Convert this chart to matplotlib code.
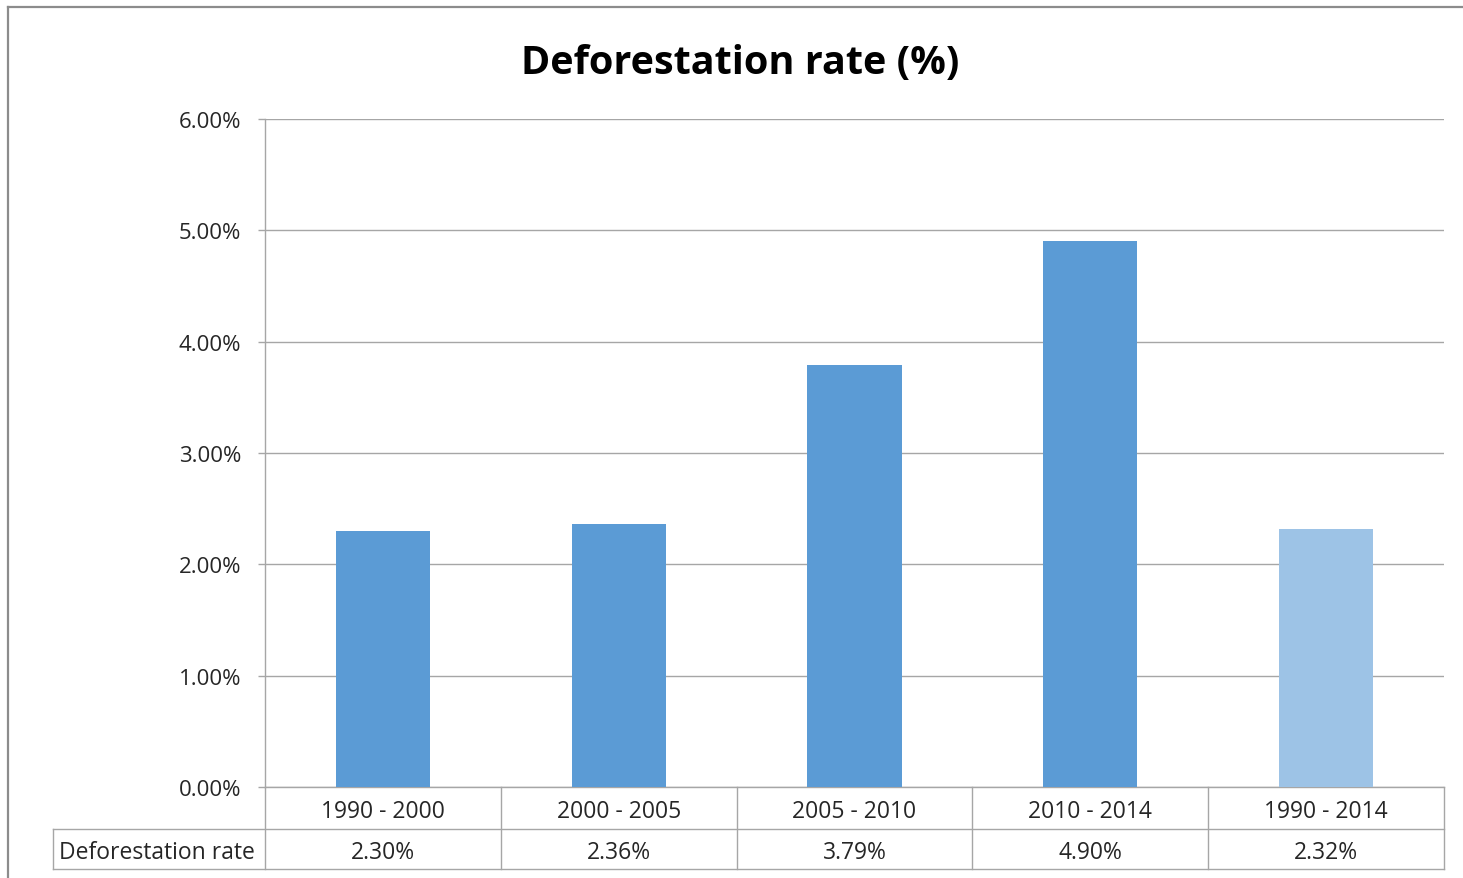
import matplotlib
matplotlib.use("Agg")
import matplotlib.pyplot as plt
from matplotlib.lines import Line2D
from matplotlib.ticker import FuncFormatter

# Data
periods = ["1990 - 2000", "2000 - 2005", "2005 - 2010", "2010 - 2014", "1990 - 2014"]
rates = [2.30, 2.36, 3.79, 4.90, 2.32]
row_label = "Deforestation rate"
bar_colors = ["#5B9BD5", "#5B9BD5", "#5B9BD5", "#5B9BD5", "#9DC3E6"]

W, H = 1463, 879
fig = plt.figure(figsize=(W / 100, H / 100), dpi=100)
fig.patch.set_facecolor("white")

font = "Open Sans"
grid_col = "#A6A6A6"
text_col = "#262626"
fs = 16.5

# Outer chart frame (left and top edges)
fig.add_artist(Line2D([8 / W, 8 / W], [0, 1 - 8 / H], color="#8C8C8C", lw=1.6,
                      transform=fig.transFigure))
fig.add_artist(Line2D([8 / W, 1], [1 - 8 / H, 1 - 8 / H], color="#8C8C8C", lw=1.6,
                      transform=fig.transFigure))

ax_left, ax_right = 265 / W, 1444 / W
ax_top, ax_bot = 1 - 120 / H, 1 - 788 / H
ax = fig.add_axes([ax_left, ax_bot, ax_right - ax_left, ax_top - ax_bot])

x = list(range(len(periods)))
ax.bar(x, rates, width=0.4, color=bar_colors, zorder=3)
ax.set_xlim(-0.5, len(periods) - 0.5)
ax.set_ylim(0, 6)
ax.set_yticks([0, 1, 2, 3, 4, 5, 6])
ax.yaxis.set_major_formatter(FuncFormatter(lambda v, _: f"{v:.2f}%"))
ax.set_xticks([])

for s in ["top", "right", "bottom"]:
    ax.spines[s].set_visible(False)
ax.spines["left"].set_color(grid_col)
ax.spines["left"].set_linewidth(1.0)

ax.yaxis.grid(True, color=grid_col, lw=1.0, zorder=0)
ax.tick_params(axis="y", length=5, width=1.0, color=grid_col, pad=12,
               labelsize=16, labelcolor=text_col)
for lab in ax.get_yticklabels():
    lab.set_fontfamily(font)

ax.set_title("Deforestation rate (%)", fontsize=28.5, fontweight="bold",
             fontfamily=font, color="black", pad=33, x=0.403)

# Data table beneath the plot
tr = ax.get_xaxis_transform()
ax_h_px = 788 - 120
r1 = -42 / ax_h_px
r2 = -82 / ax_h_px
shift = -3 / ax_h_px
n = len(periods)
left_edge = -0.5 - (265 - 53) / 236

def seg(xs, ys):
    ax.add_line(Line2D(xs, ys, transform=tr, color=grid_col, lw=1.0, clip_on=False))

seg([-0.5, n - 0.5], [0, 0])
seg([left_edge, n - 0.5], [r1, r1])
seg([left_edge, n - 0.5], [r2, r2])
seg([-0.5, -0.5], [0, r2])
seg([left_edge, left_edge], [r1, r2])
for i in range(n):
    seg([i + 0.5, i + 0.5], [0, r2])

for i, (p, v) in enumerate(zip(periods, rates)):
    ax.text(i, r1 / 2 + shift, p, transform=tr, ha="center", va="center",
            fontsize=fs, fontfamily=font, color=text_col)
    ax.text(i, (r1 + r2) / 2 + shift, f"{v:.2f}%", transform=tr, ha="center",
            va="center", fontsize=fs, fontfamily=font, color=text_col)
ax.text(left_edge + 0.025, (r1 + r2) / 2 + shift, row_label, transform=tr, ha="left",
        va="center", fontsize=fs, fontfamily=font, color=text_col)

fig.savefig("out.png", dpi=100, facecolor="white")
